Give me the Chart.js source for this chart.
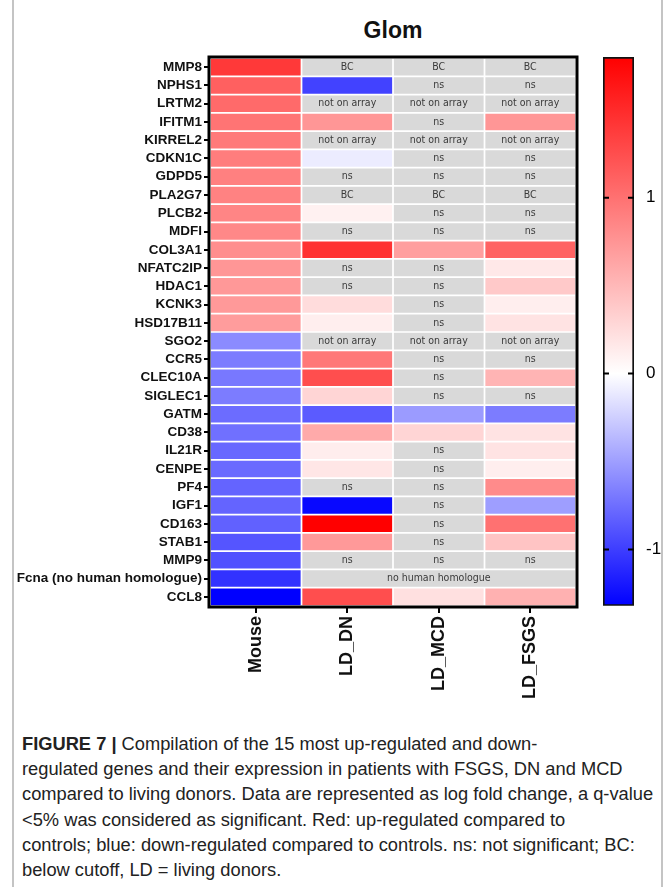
<!DOCTYPE html>
<html>
<head>
<meta charset="utf-8">
<script src="https://cdn.jsdelivr.net/npm/chart.js@4"></script>
<style>
    body { margin: 0; background: #fff; width: 665px; height: 887px; position: relative; overflow: hidden; }
    .frame { position: absolute; left: 12px; top: 0; width: 651px; height: 887px; border-left: 2px solid #c4c4c4; border-right: 2px solid #c4c4c4; box-sizing: border-box; }
    #title { position: absolute; left: 293px; width: 200px; top: 17px; text-align: center; font: bold 23px "Liberation Sans", Arial, sans-serif; color: #111; }
    #heat { position: absolute; left: 0; top: 0; }
    #bar { position: absolute; left: 590px; top: 0; }
    #caption { position: absolute; left: 22px; top: 731px; font: 18.3px "Liberation Sans", Arial, sans-serif; line-height: 25.2px; color: #222; white-space: nowrap; }
</style>
</head>
<body>
<div class="frame"></div>
<div id="title">Glom</div>
<canvas id="heat" width="580" height="706"></canvas>
<canvas id="bar" width="75" height="620"></canvas>
<div id="caption"><b>FIGURE 7 |</b> Compilation of the 15 most up-regulated and down-<br>regulated genes and their expression in patients with FSGS, DN and MCD<br>compared to living donors. Data are represented as log fold change, a q-value<br>&lt;5% was considered as significant. Red: up-regulated compared to<br>controls; blue: down-regulated compared to controls. ns: not significant; BC:<br>below cutoff, LD = living donors.</div>
<script>
// Rows and columns of the heatmap
const genes = ['MMP8', 'NPHS1', 'LRTM2', 'IFITM1', 'KIRREL2', 'CDKN1C', 'GDPD5', 'PLA2G7', 'PLCB2', 'MDFI',
    'COL3A1', 'NFATC2IP', 'HDAC1', 'KCNK3', 'HSD17B11', 'SGO2', 'CCR5', 'CLEC10A', 'SIGLEC1', 'GATM',
    'CD38', 'IL21R', 'CENPE', 'PF4', 'IGF1', 'CD163', 'STAB1', 'MMP9', 'Fcna (no human homologue)', 'CCL8'];
const columns = ['Mouse', 'LD_DN', 'LD_MCD', 'LD_FSGS'];

// log fold change per column (strings are annotations shown in grey cells)
const mouse = [1.4, 1.12, 1.05, 0.98, 0.94, 0.92, 0.9, 0.88, 0.86, 0.84,
    0.8, 0.74, 0.73, 0.72, 0.7, -0.6, -0.68, -0.7, -0.68, -0.76,
    -0.74, -0.78, -0.77, -0.8, -0.8, -0.82, -0.88, -0.9, -1.06, -1.32];
const ldDn = ['BC', -0.98, 'not on array', 0.74, 'not on array', -0.1, 'ns', 'BC', 0.1, 'ns',
    1.45, 'ns', 'ns', 0.25, 0.12, 'not on array', 0.95, 1.25, 0.3, -0.85,
    0.6, 0.13, 0.18, 'ns', -1.28, 1.8, 0.72, 'ns', 'no human homologue', 1.25];
const ldMcd = ['BC', 'ns', 'not on array', 'ns', 'not on array', 'ns', 'ns', 'BC', 'ns', 'ns',
    0.68, 'ns', 'ns', 'ns', 'ns', 'not on array', 'ns', 'ns', 'ns', -0.52,
    0.3, 'ns', 'ns', 'ns', 'ns', 'ns', 'ns', 'ns', 'no human homologue', 0.22];
const ldFsgs = ['BC', 'ns', 'not on array', 0.74, 'not on array', 'ns', 'ns', 'BC', 'ns', 'ns',
    1.1, 0.16, 0.38, 0.12, 0.2, 'not on array', 'ns', 0.53, 'ns', -0.68,
    0.2, 0.2, 0.12, 0.82, -0.5, 1.0, 0.42, 'ns', 'no human homologue', 0.55];

// colour scale range and ticks
const scaleMin = -1.32;
const scaleMax = 1.8;
const scaleTicks = [-1, 0, 1];

const cellGrey = '#d9d9d9';
const narrowFont = '"DejaVu Sans Condensed", "Liberation Sans", sans-serif';

function colourFor(v) {
    if (v >= 0) {
        const c = Math.round(255 * (1 - Math.min(v / scaleMax, 1)));
        return `rgb(255,${c},${c})`;
    }
    const c = Math.round(255 * (1 - Math.min(v / scaleMin, 1)));
    return `rgb(${c},${c},255)`;
}

// build one floating-bar dataset per column, merging repeated 'no human homologue' cells
const table = [mouse, ldDn, ldMcd, ldFsgs];
const notes = table.map(() => []);
const datasets = table.map(() => ({
    data: [],
    backgroundColor: [],
    borderColor: '#fff',
    borderWidth: 1.2,
    borderSkipped: false,
    grouped: false,
    barPercentage: 1,
    categoryPercentage: 1
}));
genes.forEach((g, r) => {
    for (let c = 0; c < table.length; c++) {
        const v = table[c][r];
        const ds = datasets[c];
        if (c > 0 && v === 'no human homologue' && table[c - 1][r] === v) {
            ds.data.push(null);
            ds.backgroundColor.push(cellGrey);
            notes[c].push(null);
            continue;
        }
        let end = c + 1;
        if (v === 'no human homologue') {
            while (end < table.length && table[end][r] === v) end++;
        }
        ds.data.push([c, end]);
        ds.backgroundColor.push(typeof v === 'string' ? cellGrey : colourFor(v));
        notes[c].push(typeof v === 'string' ? v : null);
    }
});

// cell annotations and black frame
const cellText = {
    id: 'cellText',
    afterDatasetsDraw(chart) {
        const ctx = chart.ctx;
        ctx.save();
        ctx.font = '10.5px ' + narrowFont;
        ctx.fillStyle = '#3a3a3a';
        ctx.textAlign = 'center';
        ctx.textBaseline = 'middle';
        chart.data.datasets.forEach((ds, i) => {
            chart.getDatasetMeta(i).data.forEach((el, r) => {
                const txt = notes[i][r];
                if (!txt) return;
                const p = el.getProps(['x', 'base', 'y'], true);
                ctx.fillText(txt, (p.x + p.base) / 2, p.y);
            });
        });
        const a = chart.chartArea;
        ctx.strokeStyle = '#000';
        ctx.lineWidth = 3;
        ctx.strokeRect(a.left - 1, a.top - 1, a.right - a.left + 2, a.bottom - a.top + 2);
        ctx.restore();
    }
};

new Chart(document.getElementById('heat'), {
    type: 'bar',
    data: { labels: genes, datasets: datasets },
    options: {
        indexAxis: 'y',
        responsive: false,
        animation: false,
        layout: { padding: { top: 58, left: 0, right: 4, bottom: 0 } },
        scales: {
            y: {
                type: 'category',
                afterFit: s => { s.width = 210; },
                border: { display: false },
                grid: { drawOnChartArea: false, offset: false, tickLength: 6, color: '#000', lineWidth: 2 },
                ticks: { color: '#111', padding: 2, autoSkip: false, font: { family: '"Liberation Sans", Arial, sans-serif', size: 13.5, weight: 'bold' } }
            },
            x: {
                type: 'linear',
                min: 0,
                max: 4,
                afterFit: s => { s.height = 100; },
                afterBuildTicks: s => { s.ticks = columns.map((c, i) => ({ value: i + 0.5 })); },
                border: { display: false },
                grid: { drawOnChartArea: false, tickLength: 7, color: '#000', lineWidth: 2 },
                ticks: {
                    color: '#111',
                    padding: 3,
                    autoSkip: false,
                    minRotation: 90,
                    maxRotation: 90,
                    font: { family: '"Liberation Sans", Arial, sans-serif', size: 18, weight: 'bold' },
                    callback: (v, i) => columns[i]
                }
            }
        },
        plugins: { legend: { display: false }, tooltip: { enabled: false } }
    },
    plugins: [cellText]
});

// colour bar tick marks drawn inside both edges
const barMarks = {
    id: 'barMarks',
    afterDatasetsDraw(chart) {
        const ctx = chart.ctx;
        const a = chart.chartArea;
        const ys = chart.scales.y;
        ctx.save();
        ctx.strokeStyle = '#000';
        ctx.lineWidth = 2;
        scaleTicks.forEach(t => {
            const y = ys.getPixelForValue(t);
            ctx.beginPath();
            ctx.moveTo(a.left, y); ctx.lineTo(a.left + 6, y);
            ctx.moveTo(a.right - 6, y); ctx.lineTo(a.right, y);
            ctx.stroke();
        });
        ctx.restore();
    }
};

new Chart(document.getElementById('bar'), {
    type: 'bar',
    data: {
        labels: ['scale'],
        datasets: [{
            data: [[scaleMin, scaleMax]],
            backgroundColor: ctx => {
                const chart = ctx.chart;
                if (!chart.chartArea) return '#fff';
                const ys = chart.scales.y;
                const top = ys.getPixelForValue(scaleMax);
                const bottom = ys.getPixelForValue(scaleMin);
                const g = chart.ctx.createLinearGradient(0, top, 0, bottom);
                g.addColorStop(0, 'rgb(255,0,0)');
                g.addColorStop(scaleMax / (scaleMax - scaleMin), 'rgb(255,255,255)');
                g.addColorStop(1, 'rgb(0,0,255)');
                return g;
            },
            borderColor: '#111',
            borderWidth: 2,
            borderSkipped: false,
            barPercentage: 1,
            categoryPercentage: 1
        }]
    },
    options: {
        responsive: false,
        animation: false,
        layout: { padding: { top: 57, left: 13, right: 0, bottom: 10 } },
        scales: {
            x: { display: false },
            y: {
                position: 'right',
                min: scaleMin,
                max: scaleMax,
                afterFit: s => { s.width = 31; },
                afterBuildTicks: s => { s.ticks = scaleTicks.map(v => ({ value: v })); },
                border: { display: false },
                grid: { display: false },
                ticks: { color: '#000', padding: 4, font: { family: '"Liberation Sans", Arial, sans-serif', size: 17 } }
            }
        },
        plugins: { legend: { display: false }, tooltip: { enabled: false } }
    },
    plugins: [barMarks]
});
</script>
</body>
</html>
